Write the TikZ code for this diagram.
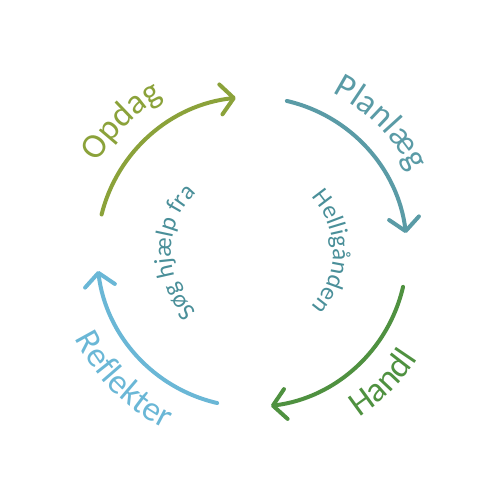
\documentclass[tikz,border=0pt]{standalone}
\usepackage{fontspec}
\setmainfont{Carlito}
\usetikzlibrary{arrows.meta,decorations.text}
\definecolor{opdagc}{HTML}{8BA23A}
\definecolor{planc}{HTML}{5A9BA6}
\definecolor{handlc}{HTML}{4F9140}
\definecolor{reflc}{HTML}{6AB7D6}
\definecolor{innerc}{HTML}{4A8F99}
\newcommand\outerfont{\fontsize{35}{35}\selectfont}
\newcommand\innerfont{\fontsize{25}{25}\selectfont}
\tikzset{
  cyclearc/.style={line width=4pt, line cap=round, draw=#1,
    -{Straight Barb[length=13pt,width=30pt,round]}},
  arctext/.style={decorate, decoration={text along path, text align=center, text color=#1}}
}
\begin{document}
\begin{tikzpicture}[x=1pt,y=1pt]
\useasboundingbox (0,0) rectangle (500,500);
\coordinate (c) at (252,248);
% arcs
\draw[cyclearc=opdagc] ([shift={(166:155)}]c) arc[start angle=166, end angle=96, radius=155];
\draw[cyclearc=planc] ([shift={(77:155)}]c) arc[start angle=77, end angle=7, radius=155];
\draw[cyclearc=handlc] ([shift={(-13:155)}]c) arc[start angle=-13, end angle=-83, radius=155];
\draw[cyclearc=reflc] ([shift={(-103:155)}]c) arc[start angle=-103, end angle=-173, radius=155];
% outer labels
\path[arctext=opdagc, decoration={text={|\outerfont|Opdag}}] ([shift={(195:178)}]c) arc[start angle=195, end angle=75, radius=178];
\path[arctext=planc, decoration={text={|\outerfont|Planlæg}}] ([shift={(105:178)}]c) arc[start angle=105, end angle=-15, radius=178];
\path[arctext=handlc, decoration={text={|\outerfont|Handl}}] ([shift={(-105:197)}]c) arc[start angle=-105, end angle=15, radius=197];
\path[arctext=reflc, decoration={text={|\outerfont|Reflekter}}] ([shift={(165:197)}]c) arc[start angle=165, end angle=285, radius=197];
% inner labels
\path[arctext=innerc, decoration={text={|\innerfont|Søg hjælp fra}}] ([shift={(240:81)}]c) arc[start angle=240, end angle=120, radius=81];
\path[arctext=innerc, decoration={text={|\innerfont|Helligånden}}] ([shift={(60:81)}]c) arc[start angle=60, end angle=-60, radius=81];
\end{tikzpicture}
\end{document}
